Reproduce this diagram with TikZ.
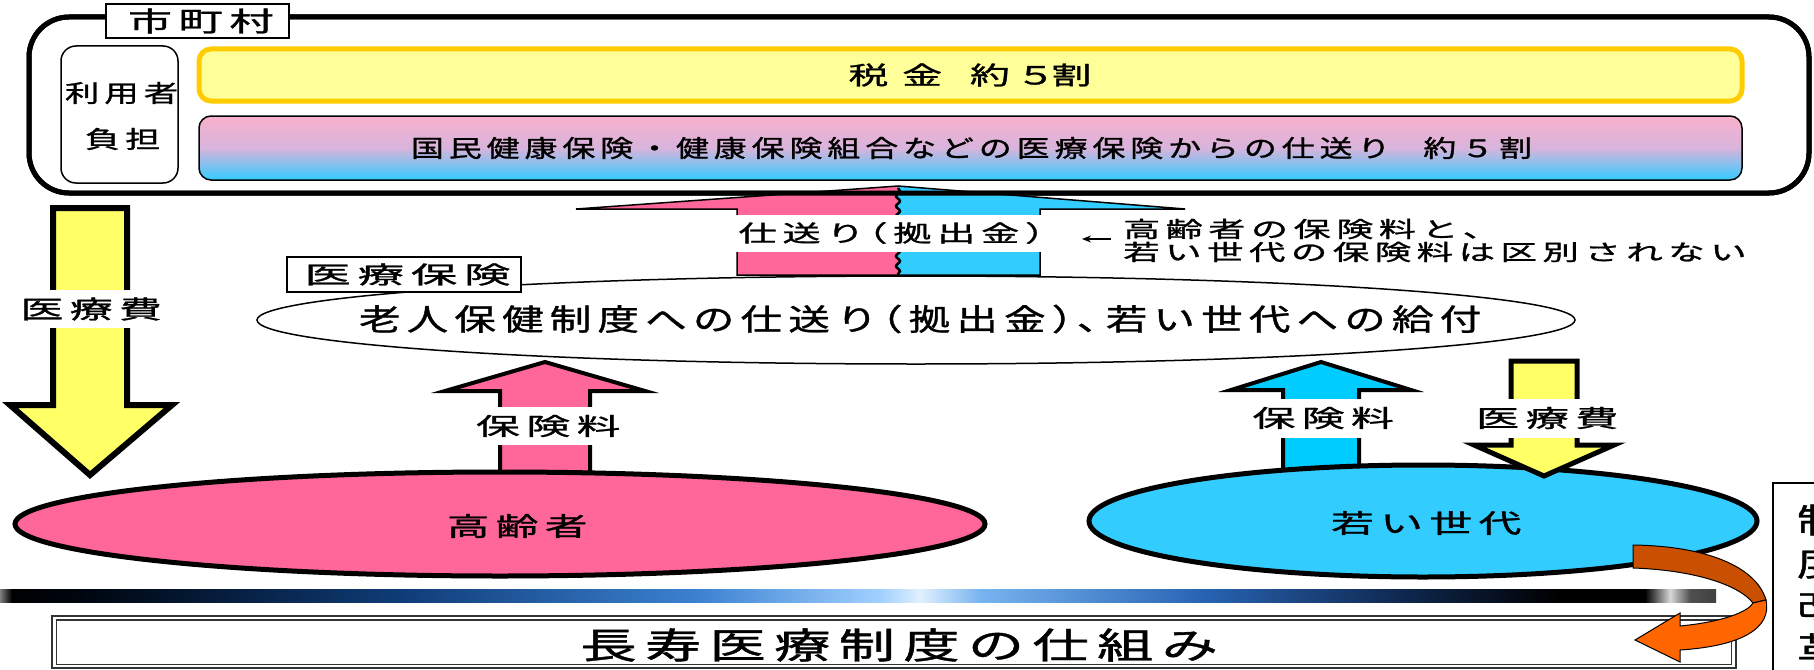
\documentclass[tikz,border=0pt]{standalone}
\usepackage{fontspec}
\usepackage{graphicx}
\setmainfont{Noto Sans CJK JP}[LetterSpace=15,FakeBold=1]
\usetikzlibrary{shapes.geometric,arrows.meta,decorations.pathmorphing}
\definecolor{pinkA}{HTML}{FF6699}
\definecolor{cyanA}{HTML}{33CCFF}
\definecolor{cyanB}{HTML}{00CCFF}
\definecolor{yelA}{HTML}{FFFF66}
\definecolor{taxfill}{HTML}{FFFF99}
\definecolor{taxline}{HTML}{FFCC00}
\definecolor{gradtop}{HTML}{F9B0CC}
\definecolor{gradmid}{HTML}{D8B4DC}
\definecolor{gradbot}{HTML}{33CCFF}
\definecolor{orD}{HTML}{C85000}
\definecolor{orB}{HTML}{FF6600}
\definecolor{b0}{RGB}{128,128,128}
\definecolor{b1}{RGB}{0,0,0}
\definecolor{b2}{RGB}{0,8,20}
\definecolor{b3}{RGB}{15,60,120}
\definecolor{b4}{RGB}{60,130,210}
\definecolor{b5}{RGB}{160,208,255}
\definecolor{b6}{RGB}{224,240,255}
\definecolor{b7}{RGB}{120,180,240}
\definecolor{b8}{RGB}{40,100,180}
\definecolor{b9}{RGB}{15,40,80}
\definecolor{b10}{RGB}{216,216,216}
\definecolor{b11}{RGB}{80,80,80}
\definecolor{b12}{RGB}{64,64,64}
\pgfdeclarehorizontalshading{barshade}{100bp}{color(0bp)=(b0); color(25bp)=(b0); color(25.35bp)=(b1); color(27.91bp)=(b2); color(36.66bp)=(b3); color(45.4bp)=(b4); color(50.64bp)=(b5); color(51.81bp)=(b6); color(53.55bp)=(b7); color(59.97bp)=(b8); color(65.79bp)=(b9); color(70.45bp)=(b1); color(72.93bp)=(b1); color(73.66bp)=(b10); color(74.24bp)=(b11); color(75bp)=(b12); color(100bp)=(b12)}
\newcommand\jt[3]{\resizebox{#1pt}{\height}{\fontsize{#2pt}{#2pt}\selectfont #3\kern-.15em}}
\newcommand\lp{\kern-.4em（}
\newcommand\rp{）\kern-.4em}
\tikzset{
  txt/.style={inner sep=0},
  wlabel/.style={fill=white, inner xsep=4pt, inner ysep=0pt, minimum height=38pt},
  thinbox/.style={draw, line width=1.5pt, fill=white, inner sep=0pt},
}
\begin{document}
\begin{tikzpicture}[x=1pt,y=-1pt,line join=miter]
\useasboundingbox (0,0) rectangle (1814,669);
\clip (0,0) rectangle (1814,669);

% outer municipality box
\draw[line width=5pt, rounded corners=40pt, fill=white] (29,17) rectangle (1809,193);

% user burden box
\draw[line width=1.5pt, rounded corners=15pt, fill=white] (61,46) rectangle (178,183);
\node[txt] (riyo1) at (119,93) {\jt{108}{24}{利用者}};
\node[txt] (riyo2) at (120,139) {\jt{70}{24}{負担}};

% tax box
\draw[line width=5pt, draw=taxline, fill=taxfill, rounded corners=12pt] (199,49) rectangle (1742,101);
\node[txt] (tax) at (967,75) {\jt{237}{25}{税\hspace{.35em}金\hspace{.7em}約５\kern-.1em割}};

% insurance transfer box
\shade[top color=gradtop, bottom color=gradbot, middle color=gradmid, rounded corners=12pt] (199,116) rectangle (1742,180);
\draw[line width=1.5pt, rounded corners=12pt] (199,116) rectangle (1742,180);
\node[txt] (kokuho) at (969,148) {\jt{1116}{24}{国民健康保険・健康保険組合などの医療保険からの仕送り\hspace{1em}約５割}};

% split arrow (transfer)
\fill[pinkA] (576,209) -- (898,186) -- (898,275) -- (737,275) -- (737,209) -- cycle;
\fill[cyanA] (898,186) -- (1185,209) -- (1040,209) -- (1040,275) -- (898,275) -- cycle;
\draw[line width=1.5pt] (737,275) -- (737,209) -- (576,209) -- (898,186) -- (1185,209) -- (1040,209) -- (1040,275) -- cycle;
\draw[line width=2.5pt, decorate, decoration={snake, amplitude=2pt, segment length=10pt}] (898,188) -- (898,275);

% re-stroke outer box border over arrow tip
\draw[line width=5pt, rounded corners=40pt] (29,17) rectangle (1809,193);
\node[thinbox, minimum width=183pt, minimum height=34pt] (shi) at (197.5,21) {\jt{139}{27}{市町村}};

\node[wlabel, minimum height=37pt, inner xsep=2pt] (shiokuri) at (898,233) {\jt{319}{23}{仕送り\lp 拠出金）}};

% note
\node[txt, anchor=west] (note1) at (1123,229) {\jt{371}{22}{高齢者の保険料と、}};
\node[txt, anchor=west] (note2) at (1123,252) {\jt{618}{22}{若い世代の保険料は区別されない}};
\coordinate (nt) at (1111,239);
\coordinate (nh) at (1082,239);
\draw[-{Stealth[length=9pt,width=7pt]}, line width=1.2pt] (nt) -- (nh);

% medical insurance ellipse
\draw[line width=1.5pt, fill=white] (916,320) ellipse [x radius=659, y radius=44];
\node[thinbox, minimum width=234pt, minimum height=35pt] (iryohoken) at (404,274.5) {\jt{199}{24}{医療保険}};
\node[txt] (roujin) at (917,319) {\jt{1116}{30}{老人保健制度への仕送り\lp 拠出金\rp 、\kern-.3em 若い世代への給付}};

% pink up arrow
\draw[line width=4pt, fill=pinkA] (500,480) -- (500,391) -- (445,391) -- (545,362) -- (645,391) -- (590,391) -- (590,480) -- cycle;
\node[wlabel] (hokenL) at (545,426) {\jt{138}{24}{保険料}};

% blue up arrow
\draw[line width=4pt, fill=cyanB] (1283,478) -- (1283,390) -- (1231,390) -- (1321,362) -- (1411,390) -- (1359,390) -- (1359,478) -- cycle;
\node[wlabel, minimum height=39pt] (hokenR) at (1320,418) {\jt{135}{24}{保険料}};

% elderly ellipse
\draw[line width=5pt, fill=pinkA] (500,524) ellipse [x radius=485, y radius=52];
\node[txt] (koreisha) at (514,526) {\jt{134}{26}{高齢者}};

% young ellipse
\draw[line width=5pt, fill=cyanA] (1423,521) ellipse [x radius=334, y radius=56];
\node[txt] (wakai) at (1423,523) {\jt{184}{26}{若い世代}};

% right yellow arrow
\draw[line width=5pt, fill=yelA] (1511,361) -- (1577,361) -- (1577,445) -- (1614,445) -- (1544,476) -- (1474,445) -- (1511,445) -- cycle;
\node[wlabel, minimum height=39pt] (iryohiR) at (1544,418) {\jt{136}{24}{医療費}};

% left yellow arrow
\draw[line width=6pt, fill=yelA] (53,208) -- (127,208) -- (127,405) -- (172,405) -- (90,475) -- (10,405) -- (53,405) -- cycle;
\node[wlabel, inner xsep=3pt] (iryohiL) at (88,309) {\jt{135}{25}{医療費}};

% separator bar
\shade[shading=barshade] (0,589) rectangle (1716,602);

% title box
\draw[line width=1.2pt, draw=black!80] (52,616) rectangle (1736,668);
\draw[line width=1.2pt, draw=black!80] (56.5,620) rectangle (1731.5,664.5);
\node[txt] (title) at (895,645) {\jt{629}{36}{長寿医療制度の仕組み}};

% orange curved arrow
\filldraw[fill=orD, line width=1pt] (1633,545) .. controls (1705,546) and (1756,566) .. (1766,600) -- (1753,603) .. controls (1738,584) and (1692,570) .. (1633,568) -- cycle;
\filldraw[fill=orB, line width=1pt] (1766,600) .. controls (1772,628) and (1742,646) .. (1680,650) -- (1680,662) -- (1635,640) -- (1680,613) -- (1680,626) .. controls (1722,622) and (1748,612) .. (1753,603) -- cycle;

% reform box
\draw[line width=1.5pt] (1773,483) rectangle (1850,700);
\node[txt] (k1) at (1817,520) {\jt{40}{34}{制}};
\node[txt] (k2) at (1817,563) {\jt{40}{34}{度}};
\node[txt] (k3) at (1817,606) {\jt{40}{34}{改}};
\node[txt] (k4) at (1817,649) {\jt{40}{34}{革}};
\end{tikzpicture}
\end{document}
